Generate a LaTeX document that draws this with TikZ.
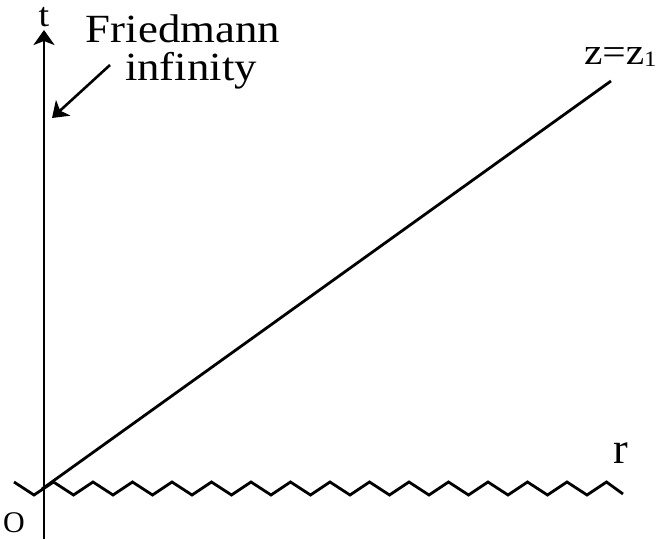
\documentclass[tikz,border=0pt]{standalone}
\usepackage{fontspec}
\setmainfont{Liberation Serif}
\newfontfamily\widefont[FakeStretch=1.12]{Liberation Serif}
\usetikzlibrary{arrows.meta}
\tikzset{
  thick line/.style={line width=2.8pt, line join=miter},
  tip/.style={-{Stealth[length=15pt,width=21pt,inset=4pt]}},
  lbl/.style={inner sep=0pt, outer sep=0pt, anchor=base},
  zlbl/.style={inner sep=0pt, outer sep=0pt, anchor=base west, font=\widefont\fontsize{37}{37}\selectfont},
}
\begin{document}
\begin{tikzpicture}[x=1pt,y=1pt]
\useasboundingbox (0,0) rectangle (664,539);
% axis
\coordinate (ax0) at (44,0);
\coordinate (ax1) at (44,509);
\draw[thick line, tip] (ax0) -- (ax1);
% zigzag singularity
\draw[thick line]
  (14,57)
  \foreach \k in {0,...,14} { -- ({34+39.5*\k},44) -- ({53.5+39.5*\k},57) }
  -- (623,45);
% light ray z=z1
\coordinate (o) at (42,50);
\coordinate (e) at (611,458);
\draw[thick line] (o) -- (e);
% labels
\node[lbl, font=\widefont\fontsize{34}{34}\selectfont] (t) at (44,512) {t};
\node[lbl, font=\fontsize{44}{44}\selectfont] (r) at (621,76) {r};
\node[lbl, font=\fontsize{30}{30}\selectfont] (O) at (14,7) {O};
\node[lbl, font=\widefont\fontsize{40}{40}\selectfont] (F1) at (183,496) {Friedmann};
\node[lbl, font=\widefont\fontsize{40}{40}\selectfont] (F2) at (191,458) {infinity};
\node[zlbl, anchor=base west] (z) at (584,474) {z=z\raisebox{-2pt}{\fontsize{22}{22}\selectfont 1}};
% arrow to Friedmann infinity
\coordinate (a0) at (110,474);
\coordinate (a1) at (52,421);
\draw[line width=2.6pt, tip] (a0) -- (a1);
\end{tikzpicture}
\end{document}
